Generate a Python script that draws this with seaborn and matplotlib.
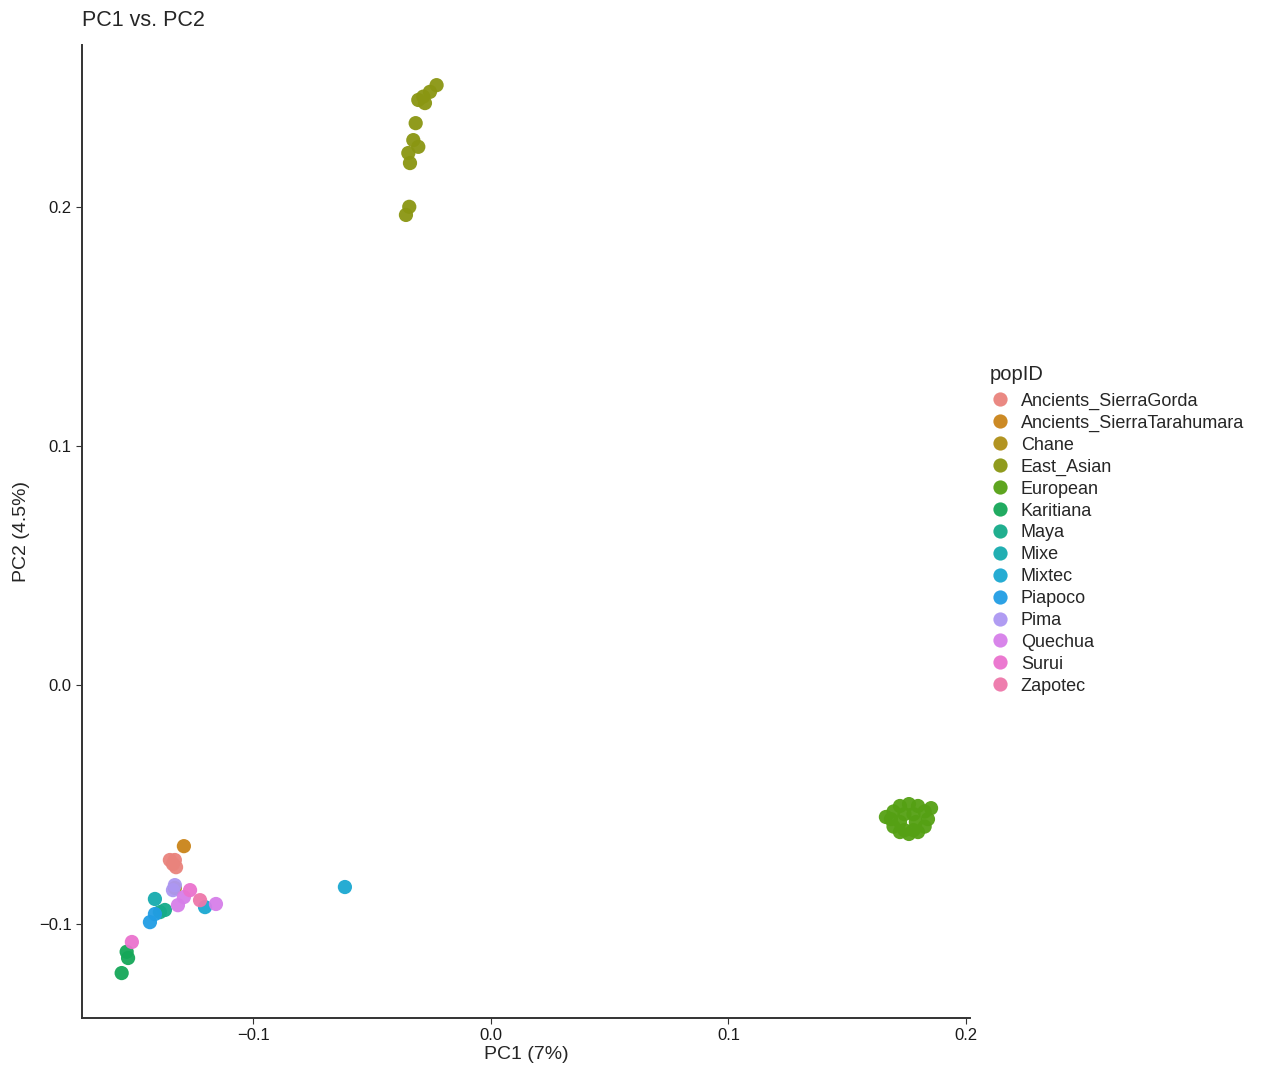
import matplotlib
matplotlib.use("Agg")
import matplotlib.pyplot as plt
import matplotlib.ticker as mticker
import pandas as pd
import seaborn as sns

# population labels (legend order) and ggplot-style hue colours
pop_ids = [
    "Ancients_SierraGorda", "Ancients_SierraTarahumara", "Chane", "East_Asian",
    "European", "Karitiana", "Maya", "Mixe", "Mixtec", "Piapoco", "Pima",
    "Quechua", "Surui", "Zapotec",
]
pop_colors = [
    "#F8766D", "#E38900", "#C49A00", "#99A800", "#53B400", "#00BC56", "#00C094",
    "#00BFC4", "#00B6EB", "#06A4FF", "#A58AFF", "#DF70F8", "#FB61D7", "#FF66A8",
]

# PC coordinates, one pair of lists per population
sierragorda_pc1 = [-0.1352, -0.1331, -0.1339, -0.1326]
sierragorda_pc2 = [-0.0732, -0.0732, -0.0749, -0.0762]
tarahumara_pc1 = [-0.1293]
tarahumara_pc2 = [-0.0674]
chane_pc1 = [-0.1331]
chane_pc2 = [-0.0849]
east_asian_pc1 = [-0.0229, -0.0257, -0.0285, -0.0306, -0.0278, -0.0317,
                  -0.0327, -0.0306, -0.0348, -0.0341, -0.0344, -0.0358]
east_asian_pc2 = [0.2510, 0.2482, 0.2462, 0.2448, 0.2435, 0.2351,
                  0.2280, 0.2252, 0.2226, 0.2184, 0.2001, 0.1967]
european_pc1 = [0.1840, 0.1826, 0.1798, 0.1760, 0.1722, 0.1695, 0.1684, 0.1695,
                0.1722, 0.1760, 0.1798, 0.1826, 0.1663, 0.1853,
                0.1789, 0.1779, 0.1741, 0.1722, 0.1741, 0.1779]
european_pc2 = [-0.0561, -0.0529, -0.0506, -0.0498, -0.0506, -0.0529, -0.0561,
                -0.0592, -0.0615, -0.0623, -0.0615, -0.0592, -0.0552, -0.0515,
                -0.0573, -0.0540, -0.0540, -0.0573, -0.0607, -0.0607]
karitiana_pc1 = [-0.1534, -0.1528, -0.1555]
karitiana_pc2 = [-0.1116, -0.1142, -0.1205]
maya_pc1 = [-0.1394, -0.1373]
maya_pc2 = [-0.0950, -0.0941]
mixe_pc1 = [-0.1415]
mixe_pc2 = [-0.0895]
mixtec_pc1 = [-0.0615, -0.1204]
mixtec_pc2 = [-0.0845, -0.0929]
piapoco_pc1 = [-0.1436, -0.1415]
piapoco_pc2 = [-0.0992, -0.0958]
pima_pc1 = [-0.1331, -0.1339]
pima_pc2 = [-0.0837, -0.0858]
quechua_pc1 = [-0.1158, -0.1318, -0.1293]
quechua_pc2 = [-0.0916, -0.0921, -0.0887]
surui_pc1 = [-0.1512, -0.1267]
surui_pc2 = [-0.1075, -0.0858]
zapotec_pc1 = [-0.1225]
zapotec_pc2 = [-0.0900]

pc1_lists = [sierragorda_pc1, tarahumara_pc1, chane_pc1, east_asian_pc1,
             european_pc1, karitiana_pc1, maya_pc1, mixe_pc1, mixtec_pc1,
             piapoco_pc1, pima_pc1, quechua_pc1, surui_pc1, zapotec_pc1]
pc2_lists = [sierragorda_pc2, tarahumara_pc2, chane_pc2, east_asian_pc2,
             european_pc2, karitiana_pc2, maya_pc2, mixe_pc2, mixtec_pc2,
             piapoco_pc2, pima_pc2, quechua_pc2, surui_pc2, zapotec_pc2]

rows = []
for pop, xs, ys in zip(pop_ids, pc1_lists, pc2_lists):
    for x, y in zip(xs, ys):
        rows.append({"PC1": x, "PC2": y, "popID": pop})
df = pd.DataFrame(rows)

# the reference looks washed out, so tone the hues down a little
palette = {p: sns.desaturate(c, 0.78) for p, c in zip(pop_ids, pop_colors)}

sns.set_style("white")
plt.rcParams["font.family"] = ["Liberation Sans", "DejaVu Sans"]

fig = plt.figure(figsize=(12.65, 10.76), dpi=100)
ax = fig.add_axes([82 / 1265, 1 - 1018 / 1076, (970 - 82) / 1265, (1018 - 45) / 1076])

sns.scatterplot(
    data=df, x="PC1", y="PC2", hue="popID", hue_order=pop_ids,
    palette=palette, s=105, linewidth=0, alpha=0.95, ax=ax, legend=True,
)

ax.set_xlim(-0.1722, 0.2017)
ax.set_ylim(-0.1393, 0.2678)
ax.set_xticks([-0.1, 0.0, 0.1, 0.2])
ax.set_yticks([-0.1, 0.0, 0.1, 0.2])
fmt = mticker.FuncFormatter(lambda v, _: f"{v:.1f}".replace("-", "\u2212"))
ax.xaxis.set_major_formatter(fmt)
ax.yaxis.set_major_formatter(fmt)
ax.tick_params(axis="both", length=4, width=0.8, color="#333333",
               labelsize=12, labelcolor="#1a1a1a", bottom=True, left=True)

for side in ["top", "right"]:
    ax.spines[side].set_visible(False)
for side in ["left", "bottom"]:
    ax.spines[side].set_color("#333333")
    ax.spines[side].set_linewidth(1.4)

ax.set_xlabel("PC1 (7%)", fontsize=14, labelpad=2)
ax.set_ylabel("PC2 (4.5%)", fontsize=14, labelpad=6)
fig.text(82 / 1265, 1 - 20 / 1076, "PC1 vs. PC2", fontsize=15.5, ha="left", va="center")

handles, labels = ax.get_legend_handles_labels()
ax.get_legend().remove()
leg = fig.legend(
    handles, labels, title="popID", loc="upper left",
    bbox_to_anchor=(973 / 1265, 1 - 349 / 1076), frameon=False,
    fontsize=13, title_fontsize=14.5, labelspacing=0.27, handletextpad=0.55,
    handlelength=1.2, markerscale=1.0,
)
leg._legend_box.align = "left"
leg._legend_box.sep = 6

fig.savefig("out.png", dpi=100)
